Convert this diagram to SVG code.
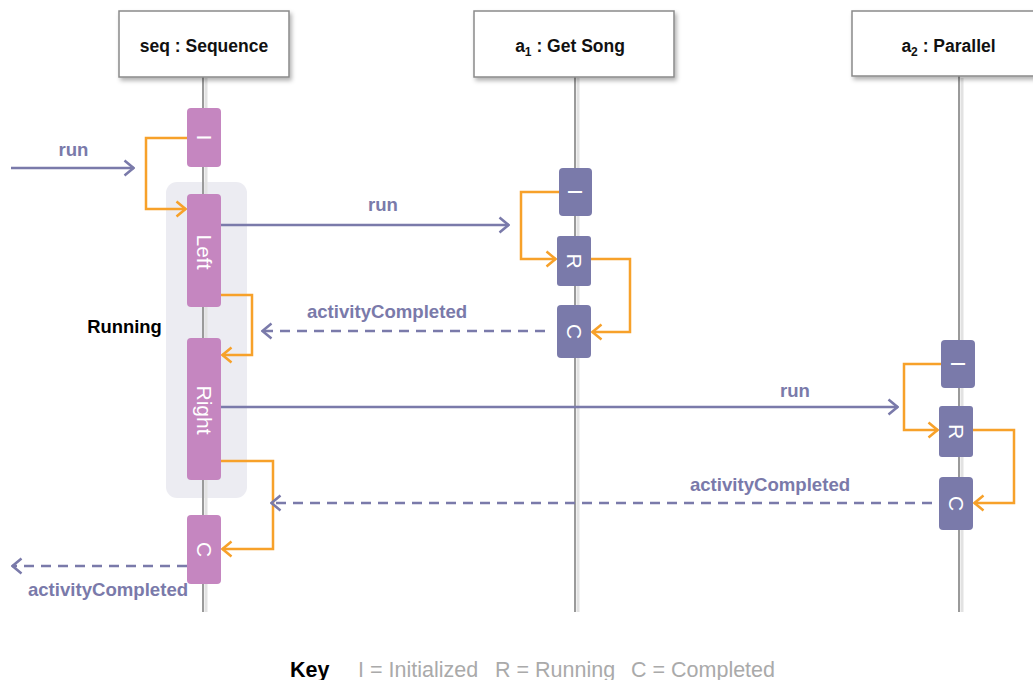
<svg xmlns="http://www.w3.org/2000/svg" width="1033" height="680" viewBox="0 0 1033 680">
<defs>
<style>
.hdr{fill:#fff;stroke:#8a8a8a;stroke-width:1.5;filter:url(#sh)}
.htxt{font-family:"Liberation Sans",Arial,sans-serif;font-weight:bold;font-size:17.5px;fill:#111;text-anchor:middle}
.life{stroke:#9a9a9a;stroke-width:2}
.lifesh{stroke:#e2e2e2;stroke-width:3}
.pk{fill:#c586c0}
.pu{fill:#7a7aaa}
.atxt{font-family:"Liberation Sans",Arial,sans-serif;font-size:21px;fill:#fff;text-anchor:middle;dominant-baseline:central}
.msg{stroke:#7a7aaa;stroke-width:2.5;fill:none}
.dash{stroke-dasharray:10 7}
.or{stroke:#f7a12a;stroke-width:2.5;fill:none;marker-end:url(#ao)}
.lbl{font-family:"Liberation Sans",Arial,sans-serif;font-weight:bold;font-size:18.6px;fill:#7a7aaa;text-anchor:middle}
</style>
<filter id="sh" x="-10%" y="-10%" width="130%" height="140%">
<feDropShadow dx="2" dy="3" stdDeviation="2" flood-color="#000" flood-opacity="0.3"/>
</filter>
<marker id="ap" viewBox="0 0 12 18" refX="11" refY="9" markerWidth="12" markerHeight="18" markerUnits="userSpaceOnUse" orient="auto">
<path d="M1.5,1.5 L10.5,9 L1.5,16.5" fill="none" stroke="#7a7aaa" stroke-width="2.5" stroke-dasharray="none"/>
</marker>
<marker id="ao" viewBox="0 0 12 18" refX="11" refY="9" markerWidth="12" markerHeight="18" markerUnits="userSpaceOnUse" orient="auto">
<path d="M1.5,1.5 L10.5,9 L1.5,16.5" fill="none" stroke="#f7a12a" stroke-width="2.5"/>
</marker>
</defs>
<rect width="1033" height="680" fill="#fff"/>

<g id="running-state">
<rect x="166" y="182" width="81" height="316" rx="11" fill="#ececf2"/>
<text x="124.5" y="333" font-family="'Liberation Sans',Arial,sans-serif" font-weight="bold" font-size="18.4" fill="#000" text-anchor="middle">Running</text>
</g>

<g id="lifelines">
<line class="lifesh" x1="206" y1="78" x2="206" y2="612"/>
<line class="life" x1="203" y1="77" x2="203" y2="612"/>
<line class="lifesh" x1="578" y1="78" x2="578" y2="612"/>
<line class="life" x1="575" y1="77" x2="575" y2="612"/>
<line class="lifesh" x1="962" y1="78" x2="962" y2="612"/>
<line class="life" x1="959" y1="76" x2="959" y2="612"/>
</g>

<g id="seq">
<rect class="hdr" x="119" y="11" width="170" height="66"/>
<text class="htxt" x="204" y="52">seq : Sequence</text>
</g>
<g id="a1">
<rect class="hdr" x="474" y="11" width="200" height="66"/>
<text class="htxt" x="570" y="52">a<tspan font-size="12" dy="4">1</tspan><tspan dy="-4"> : Get Song</tspan></text>
</g>
<g id="a2">
<rect class="hdr" x="852" y="11" width="194" height="65"/>
<text class="htxt" x="948.5" y="52">a<tspan font-size="12" dy="4">2</tspan><tspan dy="-4"> : Parallel</tspan></text>
</g>

<g id="seq-I">
<rect class="pk" x="187" y="108" width="34" height="59" rx="4"/>
<text class="atxt" transform="rotate(90 204 137.5)" x="204" y="137.5">I</text>
</g>
<g id="seq-Left">
<rect class="pk" x="187" y="194" width="34" height="113" rx="4"/>
<text class="atxt" transform="rotate(90 204 252)" x="204" y="252">Left</text>
</g>
<g id="seq-Right">
<rect class="pk" x="187" y="338" width="34" height="142" rx="4"/>
<text class="atxt" transform="rotate(90 204 410)" x="204" y="410">Right</text>
</g>
<g id="seq-C">
<rect class="pk" x="187" y="515" width="34" height="69" rx="4"/>
<text class="atxt" transform="rotate(90 204 549.5)" x="204" y="549.5">C</text>
</g>

<g id="a1-I">
<rect class="pu" x="559" y="168" width="33" height="48" rx="4"/>
<text class="atxt" transform="rotate(90 575.5 192)" x="575.5" y="192">I</text>
</g>
<g id="a1-R">
<rect class="pu" x="557" y="236" width="34" height="50" rx="3"/>
<text class="atxt" transform="rotate(90 574 261)" x="574" y="261">R</text>
</g>
<g id="a1-C">
<rect class="pu" x="557" y="305" width="34" height="53" rx="4"/>
<text class="atxt" transform="rotate(90 574 331.5)" x="574" y="331.5">C</text>
</g>

<g id="a2-I">
<rect class="pu" x="941" y="340" width="34" height="48" rx="4"/>
<text class="atxt" transform="rotate(90 958 364)" x="958" y="364">I</text>
</g>
<g id="a2-R">
<rect class="pu" x="939" y="406" width="34" height="51" rx="3"/>
<text class="atxt" transform="rotate(90 956 431.5)" x="956" y="431.5">R</text>
</g>
<g id="a2-C">
<rect class="pu" x="939" y="477" width="34" height="53" rx="4"/>
<text class="atxt" transform="rotate(90 956 503.5)" x="956" y="503.5">C</text>
</g>

<g id="connectors">
<polyline class="or" points="187,138 146,138 146,209 186,209"/>
<polyline class="or" points="221,295 252,295 252,355 222,355"/>
<polyline class="or" points="221,461 273,461 273,549 222,549"/>
<polyline class="or" points="559,192 521,192 521,259 556,259"/>
<polyline class="or" points="591,259 630,259 630,332 592,332"/>
<polyline class="or" points="941,364 904,364 904,430 938,430"/>
<polyline class="or" points="973,430 1014,430 1014,503 974,503"/>

<line class="msg" x1="11" y1="168" x2="134" y2="168" marker-end="url(#ap)"/>
<line class="msg" x1="221" y1="225" x2="509" y2="225" marker-end="url(#ap)"/>
<line class="msg dash" x1="545" y1="331" x2="262" y2="331" marker-end="url(#ap)"/>
<line class="msg" x1="221" y1="407" x2="898" y2="407" marker-end="url(#ap)"/>
<line class="msg dash" x1="932" y1="503" x2="271" y2="503" marker-end="url(#ap)"/>
<line class="msg dash" x1="187" y1="566" x2="12" y2="566" marker-end="url(#ap)"/>

<text class="lbl" x="73.5" y="156">run</text>
<text class="lbl" x="383" y="211">run</text>
<text class="lbl" x="387" y="318">activityCompleted</text>
<text class="lbl" x="795" y="397">run</text>
<text class="lbl" x="770" y="491">activityCompleted</text>
<text class="lbl" x="108" y="596">activityCompleted</text>
</g>

<g id="key" font-family="'Liberation Sans',Arial,sans-serif" font-size="21.5">
<text x="290" y="677" font-weight="bold" fill="#000">Key</text>
<text x="358" y="677" fill="#aaaaaa">I = Initialized</text>
<text x="495" y="677" fill="#aaaaaa">R = Running</text>
<text x="631" y="677" fill="#aaaaaa">C = Completed</text>
</g>
</svg>
